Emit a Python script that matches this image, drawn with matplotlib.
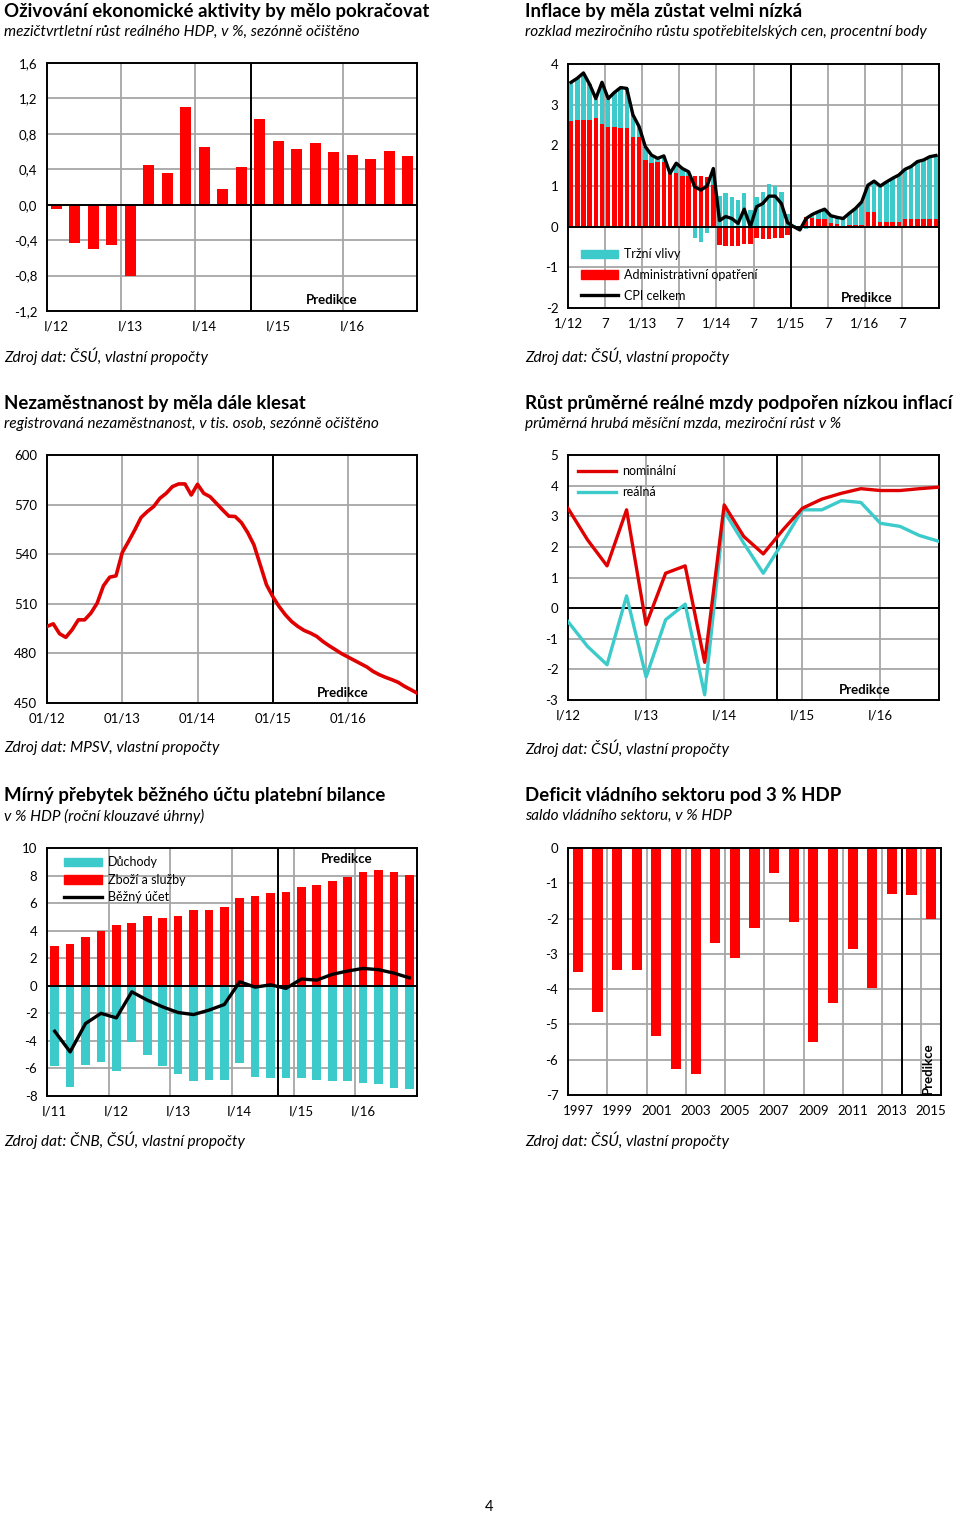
import matplotlib
matplotlib.use("Agg")
import matplotlib.pyplot as plt
from matplotlib.patches import Patch
from matplotlib.lines import Line2D
import numpy as np

plt.rcParams['font.family'] = ['Lato', 'DejaVu Sans']
plt.rcParams['axes.unicode_minus'] = False

W, H = 960, 1515
RED = '#FF0000'
TEAL = '#3CCACA'
GRID = '#A6A6A6'

# ---------------- DATA ----------------
# 1) GDP q/q growth, Q1/2012 - Q4/2016
gdp_labels = ['I/12', 'I/13', 'I/14', 'I/15', 'I/16']
gdp = [-0.05, -0.43, -0.50, -0.46, -0.80, 0.45, 0.36, 1.10, 0.65, 0.18,
       0.43, 0.97, 0.72, 0.63, 0.70, 0.60, 0.56, 0.52, 0.61, 0.55]

# 2) Inflation decomposition, 1/2012 - 12/2016 (monthly)
infl_labels = ['1/12', '7', '1/13', '7', '1/14', '7', '1/15', '7', '1/16', '7']
admin = [2.60, 2.62, 2.62, 2.62, 2.66, 2.52, 2.46, 2.45, 2.43, 2.42, 2.21, 2.20,
         1.64, 1.56, 1.60, 1.58, 1.35, 1.31, 1.25, 1.25, 1.25, 1.25, 1.23, 1.02,
         -0.45, -0.47, -0.47, -0.47, -0.43, -0.43, -0.29, -0.31, -0.31, -0.29, -0.27, -0.21,
         -0.03, -0.06, 0.25, 0.22, 0.20, 0.20, 0.08, 0.07, 0.02, 0.05, 0.05, 0.03,
         0.35, 0.35, 0.12, 0.12, 0.12, 0.12, 0.20, 0.20, 0.20, 0.20, 0.20, 0.20]
market = [0.95, 1.03, 1.13, 0.88, 0.49, 0.98, 0.69, 0.85, 0.97, 0.98, 0.54, 0.25,
          0.31, 0.19, 0.10, 0.12, 0.05, 0.24, 0.17, 0.08, -0.29, -0.37, -0.16, 0.35,
          0.75, 0.84, 0.74, 0.66, 0.82, 0.41, 0.74, 0.86, 1.04, 1.00, 0.86, 0.30,
          0.03, -0.03, -0.05, 0.08, 0.17, 0.23, 0.19, 0.16, 0.18, 0.28, 0.40, 0.58,
          0.67, 0.77, 0.88, 0.98, 1.07, 1.15, 1.21, 1.28, 1.40, 1.44, 1.52, 1.55]
cpi = [3.55, 3.65, 3.78, 3.50, 3.15, 3.55, 3.15, 3.30, 3.42, 3.40, 2.75, 2.46,
       1.97, 1.76, 1.68, 1.74, 1.31, 1.56, 1.43, 1.35, 0.98, 0.90, 1.00, 1.43,
       0.15, 0.25, 0.20, 0.08, 0.43, 0.00, 0.49, 0.57, 0.75, 0.75, 0.57, 0.10,
       0.00, -0.08, 0.20, 0.30, 0.37, 0.43, 0.27, 0.23, 0.20, 0.33, 0.45, 0.61,
       1.02, 1.12, 1.00, 1.10, 1.19, 1.27, 1.41, 1.48, 1.60, 1.64, 1.72, 1.75]

# 3) Registered unemployment, thousands, 1/2012 - 12/2016
unemp_labels = ['01/12', '01/13', '01/14', '01/15', '01/16']
unemp = [496.3, 497.9, 491.9, 489.7, 494.3, 500.3, 500.3, 504.4, 510.4, 520.9, 526.1, 526.9,
         541.0, 547.7, 554.7, 562.2, 565.8, 568.8, 573.8, 576.8, 580.9, 582.5, 582.5, 575.8,
         582.3, 576.8, 574.8, 570.8, 566.8, 563.0, 562.8, 559.1, 553.1, 545.6, 533.6, 521.5,
         514.4, 508.4, 503.4, 499.3, 496.3, 493.9, 492.3, 490.3, 487.2, 484.6, 482.2, 479.8,
         477.8, 475.8, 473.8, 471.8, 469.1, 467.1, 465.5, 464.1, 462.5, 460.1, 458.1, 456.0]

# 4) Average wage growth, Q1/2012 - Q4/2016
wage_labels = ['I/12', 'I/13', 'I/14', 'I/15', 'I/16']
wage_nom = [3.26, 2.23, 1.38, 3.21, -0.54, 1.14, 1.38, -1.77, 3.37, 2.34,
            1.77, 2.55, 3.26, 3.56, 3.75, 3.90, 3.84, 3.84, 3.90, 3.95]
wage_real = [-0.44, -1.25, -1.85, 0.40, -2.25, -0.38, 0.13, -2.83, 3.16, 2.12,
             1.14, 2.15, 3.21, 3.21, 3.51, 3.45, 2.77, 2.67, 2.37, 2.18]

# 5) Current account, % GDP, Q1/2011 - Q4/2016
ca_labels = ['I/11', 'I/12', 'I/13', 'I/14', 'I/15', 'I/16']
ca_goods = [2.89, 3.00, 3.54, 4.00, 4.42, 4.54, 5.07, 4.95, 5.07, 5.50, 5.50, 5.75,
            6.40, 6.50, 6.70, 6.82, 7.16, 7.28, 7.60, 7.91, 8.25, 8.37, 8.25, 8.06]
ca_income = [-5.83, -7.35, -5.73, -5.53, -6.19, -4.08, -5.05, -5.83, -6.40, -6.94, -6.82, -6.82,
             -5.63, -6.60, -6.72, -6.72, -6.72, -6.84, -6.94, -6.94, -7.06, -7.16, -7.40, -7.48]
ca_total = [-3.30, -4.80, -2.74, -2.00, -2.33, -0.44, -1.04, -1.53, -1.94, -2.09, -1.77, -1.36,
            0.29, -0.10, 0.07, -0.19, 0.49, 0.41, 0.83, 1.07, 1.26, 1.17, 0.92, 0.58]

# 6) Government balance, % GDP, 1997-2015
def_years = list(range(1997, 2016))
deficit = [-3.51, -4.64, -3.46, -3.46, -5.33, -6.27, -6.41, -2.69, -3.11, -2.26,
           -0.70, -2.09, -5.50, -4.39, -2.87, -3.98, -1.29, -1.34, -2.00]

# ---------------- HELPERS ----------------
fig = plt.figure(figsize=(W / 100, H / 100), dpi=100)

SUB_FS = 11.1


def add_ax(l, t, r, b):
    ax = fig.add_axes([l / W, 1 - b / H, (r - l) / W, (b - t) / H])
    for s in ax.spines.values():
        s.set_linewidth(1.4)
        s.set_color('black')
    ax.tick_params(length=0, labelsize=9.5, pad=7)
    ax.set_axisbelow(True)
    return ax


def ftext(x, y, s, **kw):
    fig.text(x / W, 1 - y / H, s, **kw)


def header(x, y, title, subtitle):
    ftext(x, y, title, fontsize=13.4, fontweight='bold', va='center', ha='left')
    ftext(x, y + 21, subtitle, fontsize=SUB_FS, style='italic', va='center', ha='left')


def source(x, y, s):
    ftext(x, y, s, fontsize=SUB_FS, style='italic', va='center', ha='left')


def hgrid(ax, vals):
    for v in vals:
        ax.axhline(v, color=GRID, lw=1.3, zorder=0)


def vgrid(ax, vals):
    for v in vals:
        ax.axvline(v, color=GRID, lw=1.3, zorder=0)


def comma(v, nd=1):
    return f"{v:.{nd}f}".replace('.', ',')


def predikce(ax, x, y, **kw):
    ax.text(x, y, 'Predikce', transform=ax.transAxes, fontsize=9.5,
            fontweight='bold', ha='center', va='center', **kw)


# ---------------- PANEL 1: GDP ----------------
header(4, 11, 'Oživování ekonomické aktivity by mělo pokračovat',
       'mezičtvrtletní růst reálného HDP, v %, sezónně očištěno')
ax = add_ax(47, 63, 417, 311)
x = np.arange(len(gdp))
hgrid(ax, np.arange(-0.8, 1.6, 0.4))
vgrid(ax, [3.5, 7.5, 15.5])
ax.bar(x, gdp, width=0.62, color=RED, zorder=2)
ax.axhline(0, color='black', lw=1.4, zorder=3)
ax.axvline(10.5, color='black', lw=1.4, zorder=3)
ax.set_xlim(-0.5, len(gdp) - 0.5)
ax.set_ylim(-1.2, 1.6)
yt = np.round(np.arange(-1.2, 1.61, 0.4), 1)
ax.set_yticks(yt)
ax.set_yticklabels([comma(v) for v in yt])
ax.set_xticks(np.arange(0, len(gdp), 4))
ax.set_xticklabels(gdp_labels)
predikce(ax, 0.77, 0.045)
source(4, 356, 'Zdroj dat: ČSÚ, vlastní propočty')

# ---------------- PANEL 2: Inflation ----------------
header(525, 11, 'Inflace by měla zůstat velmi nízká',
       'rozklad meziročního růstu spotřebitelských cen, procentní body')
ax = add_ax(568, 64, 939, 308)
n = len(cpi)
xm = np.arange(n) + 0.5
hgrid(ax, [-1, 1, 2, 3])
vgrid(ax, [6, 12, 18, 24, 30, 42, 48, 54])
adm = np.array(admin)
mkt = np.array(market)
mkt_base = np.where((mkt >= 0) & (adm >= 0), adm, 0.0)
mkt_base = np.where((mkt < 0) & (adm < 0), adm, mkt_base)
ax.bar(xm, adm, width=0.72, color=RED, zorder=2)
ax.bar(xm, mkt, bottom=mkt_base, width=0.72, color=TEAL, zorder=2)
ax.plot(xm, cpi, color='black', lw=2.4, zorder=4)
ax.axhline(0, color='black', lw=1.4, zorder=3)
ax.axvline(36, color='black', lw=1.4, zorder=3)
ax.set_xlim(0, n)
ax.set_ylim(-2, 4)
ax.set_yticks(range(-2, 5))
ax.set_xticks(np.arange(0, n, 6))
ax.set_xticklabels(infl_labels)
h = [Patch(color=TEAL), Patch(color=RED), Line2D([], [], color='black', lw=2.4)]
ax.legend(h, ['Tržní vlivy', 'Administrativní opatření', 'CPI celkem'],
          loc='lower left', bbox_to_anchor=(0.0, -0.025), frameon=False, fontsize=9,
          handlelength=3.0, handleheight=0.65, labelspacing=0.7, handletextpad=0.5,
          borderaxespad=0.6)
predikce(ax, 0.805, 0.04)
source(525, 356, 'Zdroj dat: ČSÚ, vlastní propočty')

# ---------------- PANEL 3: Unemployment ----------------
header(4, 403, 'Nezaměstnanost by měla dále klesat',
       'registrovaná nezaměstnanost, v tis. osob, sezónně očištěno')
ax = add_ax(47, 455, 417, 703)
nu = len(unemp)
hgrid(ax, [480, 510, 540, 570])
vgrid(ax, [12, 24, 48])
ax.plot(np.arange(nu), unemp, color='#E00000', lw=2.6, zorder=4)
ax.axvline(36, color='black', lw=1.4, zorder=3)
ax.set_xlim(0, nu - 1)
ax.set_ylim(450, 600)
ax.set_yticks(range(450, 601, 30))
ax.set_xticks(np.arange(0, nu, 12))
ax.set_xticklabels(unemp_labels)
predikce(ax, 0.8, 0.04)
source(4, 748, 'Zdroj dat: MPSV, vlastní propočty')

# ---------------- PANEL 4: Wages ----------------
header(525, 403, 'Růst průměrné reálné mzdy podpořen nízkou inflací',
       'průměrná hrubá měsíční mzda, meziroční růst v %')
ax = add_ax(568, 455, 939, 700)
nq = len(wage_nom)
hgrid(ax, [-2, -1, 1, 2, 3, 4])
vgrid(ax, [4, 8, 12, 16])
ax.plot(np.arange(nq), wage_nom, color='#E00000', lw=2.4, zorder=4, label='nominální')
ax.plot(np.arange(nq), wage_real, color=TEAL, lw=2.4, zorder=3, label='reálná')
ax.axhline(0, color='black', lw=1.4, zorder=2)
ax.axvline(10.7, color='black', lw=1.4, zorder=2)
ax.set_xlim(0, nq - 1)
ax.set_ylim(-3, 5)
ax.set_yticks(range(-3, 6))
ax.set_xticks(np.arange(0, nq, 4))
ax.set_xticklabels(wage_labels)
ax.legend(loc='upper left', frameon=False, fontsize=9, handlelength=3.0,
          labelspacing=0.75, handletextpad=0.5, borderaxespad=0.4)
predikce(ax, 0.8, 0.04)
source(525, 748, 'Zdroj dat: ČSÚ, vlastní propočty')

# ---------------- PANEL 5: Current account ----------------
header(4, 795, 'Mírný přebytek běžného účtu platební bilance',
       'v % HDP (roční klouzavé úhrny)')
ax = add_ax(47, 848, 417, 1096)
nc = len(ca_total)
xc = np.arange(nc)
hgrid(ax, [-6, -4, -2, 2, 4, 6, 8])
vgrid(ax, [3.5, 7.5, 11.5, 15.5, 19.5])
ax.bar(xc, ca_goods, width=0.56, color=RED, zorder=2)
ax.bar(xc, ca_income, width=0.56, color=TEAL, zorder=2)
ax.plot(xc, ca_total, color='black', lw=2.4, zorder=4)
ax.axhline(0, color='black', lw=1.4, zorder=3)
ax.axvline(14.5, color='black', lw=1.4, zorder=3)
ax.set_xlim(-0.5, nc - 0.5)
ax.set_ylim(-8, 10)
ax.set_yticks(range(-8, 11, 2))
ax.set_xticks(np.arange(0, nc, 4))
ax.set_xticklabels(ca_labels)
h = [Patch(color=TEAL), Patch(color=RED), Line2D([], [], color='black', lw=2.4)]
ax.legend(h, ['Důchody', 'Zboží a služby', 'Běžný účet'], loc='upper left',
          frameon=False, fontsize=9, handlelength=3.0, handleheight=0.65,
          labelspacing=0.45, handletextpad=0.5, borderaxespad=0.25,
          bbox_to_anchor=(0.025, 1.0))
predikce(ax, 0.81, 0.955)
source(4, 1140, 'Zdroj dat: ČNB, ČSÚ, vlastní propočty')

# ---------------- PANEL 6: Government deficit ----------------
header(525, 795, 'Deficit vládního sektoru pod 3 % HDP', 'saldo vládního sektoru, v % HDP')
ax = add_ax(568, 848, 941, 1095)
nd = len(deficit)
xd = np.arange(nd)
hgrid(ax, range(-6, 0))
vgrid(ax, [1.5, 3.5, 5.5, 7.5, 9.5, 11.5, 13.5, 15.5, 17.5])
ax.bar(xd, deficit, width=0.52, color=RED, zorder=2)
ax.axvline(16.5, color='black', lw=1.4, zorder=3)
ax.set_xlim(-0.5, nd - 0.5)
ax.set_ylim(-7, 0)
ax.set_yticks(range(-7, 1))
ax.set_xticks(xd[::2])
ax.set_xticklabels([str(y) for y in def_years[::2]])
predikce(ax, 0.965, 0.11, rotation=90)
source(525, 1140, 'Zdroj dat: ČSÚ, vlastní propočty')

# page number
ftext(489, 1507, '4', fontsize=10.5, ha='center', va='center')

fig.savefig('out.png', dpi=100)
